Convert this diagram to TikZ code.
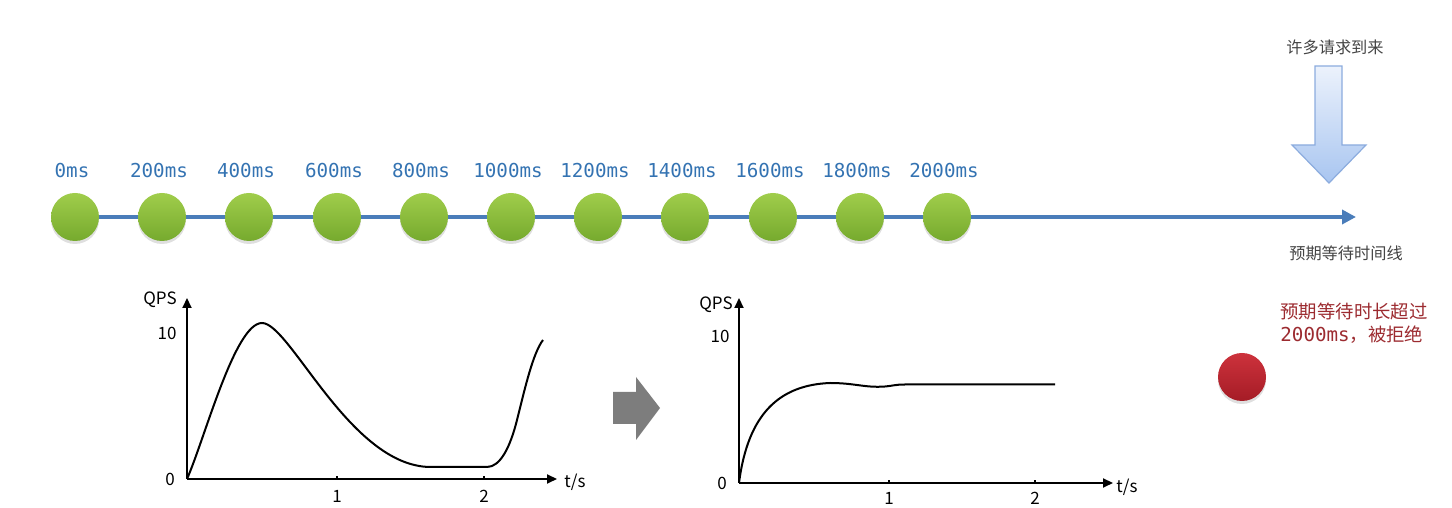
\documentclass[tikz,border=0pt]{standalone}
\usepackage{fontspec}
\setmonofont{DejaVu Sans Mono}
\newfontfamily\cjk{Noto Sans CJK SC}
\usetikzlibrary{arrows.meta,shadows}
\definecolor{zeitblau}{RGB}{52,115,178}
\definecolor{linienblau}{RGB}{74,125,186}
\definecolor{ballhell}{RGB}{160,205,75}
\definecolor{balldunkel}{RGB}{118,170,46}
\definecolor{rothell}{RGB}{205,50,60}
\definecolor{rotdunkel}{RGB}{165,28,38}
\definecolor{rotschrift}{RGB}{156,43,48}
\definecolor{grauschrift}{RGB}{68,68,68}
\definecolor{pfeilgrau}{RGB}{125,125,125}
\definecolor{pfeilhell}{RGB}{236,242,252}
\definecolor{pfeildunkel}{RGB}{168,197,240}
\definecolor{pfeilrand}{RGB}{140,172,222}
\begin{document}
\begin{tikzpicture}[x=.5pt, y=.5pt, >={Triangle[length=5pt,width=4.5pt]},
  ball/.style={circle, minimum size=24pt, inner sep=0pt, top color=ballhell, bottom color=balldunkel,
  drop shadow={opacity=.25, shadow xshift=0pt, shadow yshift=-1.5pt}},
  zeit/.style={font=\ttfamily\fontsize{9.6}{11}\selectfont, text=zeitblau},
  grautext/.style={font=\cjk\fontsize{8.1}{10}\selectfont, text=grauschrift},
  achse/.style={line width=1pt, ->},
  kurve/.style={line width=1pt},
  beschr/.style={font=\cjk\fontsize{8.5}{10}\selectfont}]
\useasboundingbox (0,0) rectangle (1452,508);

%Zeitleiste
\coordinate(p0) at (75,291);
\coordinate(p1) at (162,291);
\coordinate(p2) at (249,291);
\coordinate(p3) at (337,291);
\coordinate(p4) at (424,291);
\coordinate(p5) at (511,291);
\coordinate(p6) at (598,291);
\coordinate(p7) at (685,291);
\coordinate(p8) at (773,291);
\coordinate(p9) at (860,291);
\coordinate(p10) at (947,291);
\coordinate(ende) at (1356,291);
\draw[linienblau, line width=2pt, -{Triangle[length=7pt,width=7pt]}] (p0) -- (ende);

\node[ball] (b0) at (p0) {};
\node[ball] (b1) at (p1) {};
\node[ball] (b2) at (p2) {};
\node[ball] (b3) at (p3) {};
\node[ball] (b4) at (p4) {};
\node[ball] (b5) at (p5) {};
\node[ball] (b6) at (p6) {};
\node[ball] (b7) at (p7) {};
\node[ball] (b8) at (p8) {};
\node[ball] (b9) at (p9) {};
\node[ball] (b10) at (p10) {};

\node[zeit] (l0) at (72,337) {0ms};
\node[zeit] (l1) at (159,337) {200ms};
\node[zeit] (l2) at (246,337) {400ms};
\node[zeit] (l3) at (334,337) {600ms};
\node[zeit] (l4) at (421,337) {800ms};
\node[zeit] (l5) at (508,337) {1000ms};
\node[zeit] (l6) at (595,337) {1200ms};
\node[zeit] (l7) at (682,337) {1400ms};
\node[zeit] (l8) at (770,337) {1600ms};
\node[zeit] (l9) at (857,337) {1800ms};
\node[zeit] (l10) at (944,337) {2000ms};

\node[grautext] (zeitlinie) at (1346,255) {预期等待时间线};

%Anfragen
\node[grautext] (anfragen) at (1335,461) {许多请求到来};
\draw[pfeilrand, line width=.6pt, top color=pfeilhell, bottom color=pfeildunkel]
  (1315,442) -- (1342,442) -- (1342,363) -- (1366,363) -- (1329,325) -- (1292,363) -- (1315,363) -- cycle;

%Diagramm links
\coordinate(o1) at (187,29);
\coordinate(x1) at (557,29);
\coordinate(y1) at (187,210);
\draw[achse] (o1) -- (x1);
\draw[achse] (o1) -- (y1);
\draw[line width=1pt] (337,29) -- (337,32);
\draw[line width=1pt] (484,29) -- (484,32);
\node[beschr] (q1) at (160,208) {QPS};
\node[beschr] (z1) at (167,175) {10};
\node[beschr] (n1) at (170,29) {0};
\node[beschr] (e1) at (337,12) {1};
\node[beschr] (f1) at (484,12) {2};
\node[beschr] (t1) at (575,26) {t/s};
\draw[kurve] (o1) .. controls (205,70) and (235,185) .. (262,185)
  .. controls (290,185) and (350,42) .. (430,41) -- (487,41)
  .. controls (500,41) and (510,60) .. (517,88)
  .. controls (525,120) and (533,155) .. (543,168);

%Pfeil
\fill[pfeilgrau] (613,116) -- (636,116) -- (636,131) -- (660,100) -- (636,68) -- (636,84) -- (613,84) -- cycle;

%Diagramm rechts
\coordinate(o2) at (739,25);
\coordinate(x2) at (1113,25);
\coordinate(y2) at (739,210);
\draw[achse] (o2) -- (x2);
\draw[achse] (o2) -- (y2);
\draw[line width=1pt] (889,25) -- (889,28);
\draw[line width=1pt] (1035,25) -- (1035,28);
\node[beschr] (q2) at (716,203) {QPS};
\node[beschr] (z2) at (720,172) {10};
\node[beschr] (n2) at (722,25) {0};
\node[beschr] (e2) at (889,10) {1};
\node[beschr] (f2) at (1035,10) {2};
\node[beschr] (t2) at (1127,21) {t/s};
\draw[kurve] (o2) .. controls (748,95) and (780,123) .. (830,125)
  .. controls (855,125) and (865,120) .. (885,121.5)
  .. controls (892,122) and (895,123.5) .. (905,123.5) -- (1055,123.5);

%Abgelehnt
\node[circle, minimum size=24pt, inner sep=0pt, top color=rothell, bottom color=rotdunkel,
  drop shadow={opacity=.25, shadow xshift=0pt, shadow yshift=-1.5pt}] (rot) at (1242,131) {};
\node[anchor=west, align=left, inner sep=0pt, text=rotschrift, font=\fontsize{9.2}{11.5}\selectfont] (abgelehnt) at (1280,184.5)
  {{\cjk 预期等待时长超过}\\{\ttfamily\fontsize{9.6}{11.5}\selectfont 2000ms}{\cjk ，被拒绝}};
\end{tikzpicture}
\end{document}
